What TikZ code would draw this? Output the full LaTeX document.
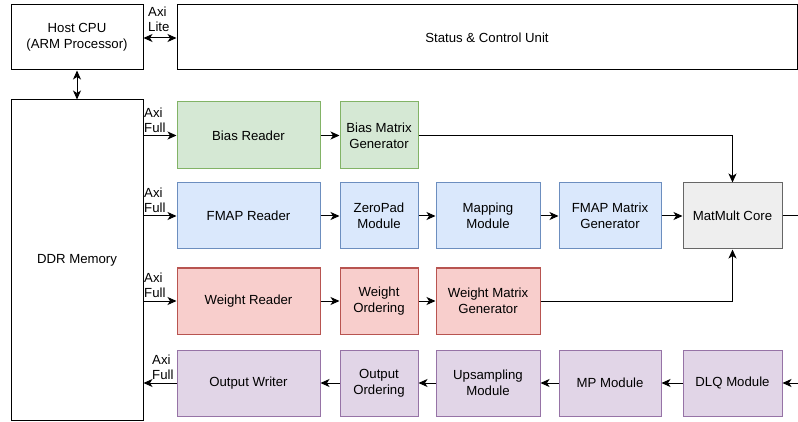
\documentclass[tikz,border=0pt]{standalone}
\usepackage{fontspec}
\setmainfont{Liberation Sans}
\usetikzlibrary{arrows.meta,positioning}
\definecolor{grnF}{HTML}{D5E8D4}\definecolor{grnD}{HTML}{82B366}
\definecolor{bluF}{HTML}{DAE8FC}\definecolor{bluD}{HTML}{6C8EBF}
\definecolor{redF}{HTML}{F8CECC}\definecolor{redD}{HTML}{B85450}
\definecolor{purF}{HTML}{E1D5E7}\definecolor{purD}{HTML}{9673A6}
\definecolor{gryF}{HTML}{EEEEEE}\definecolor{gryD}{HTML}{666666}
\tikzset{
  blk/.style={draw, line width=1pt, align=center, inner sep=0pt, font=\fontsize{13.2}{16}\selectfont},
  plain/.style={blk, draw=black, fill=white},
  green/.style={blk, draw=grnD, fill=grnF},
  blue/.style={blk, draw=bluD, fill=bluF},
  red/.style={blk, draw=redD, fill=redF},
  purple/.style={blk, draw=purD, fill=purF},
  grey/.style={blk, draw=gryD, fill=gryF},
  conn/.style={line width=1pt, -{Stealth[length=9pt,width=8pt,inset=2.5pt]}},
  biconn/.style={line width=1pt, {Stealth[length=9pt,width=8pt,inset=2.5pt]}-{Stealth[length=9pt,width=8pt,inset=2.5pt]}},
  lbl/.style={font=\fontsize{13.2}{15}\selectfont, align=left, inner sep=0pt},
}
\begin{document}
\begin{tikzpicture}[x=1pt,y=-1pt]
\useasboundingbox (0,0) rectangle (798,422);
% top row
\node[plain, minimum width=132pt, minimum height=65pt] (cpu) at (77,37.5) {Host CPU\\(ARM Processor)};
\node[plain, minimum width=620pt, minimum height=65pt] (scu) at (487,37.5) {Status \& Control Unit};
\node[plain, minimum width=132pt, minimum height=320pt] (ddr) at (77,260) {DDR Memory};
% bias row
\node[green, minimum width=143pt, minimum height=67pt] (br) at (248.5,135.5) {Bias Reader};
\node[green, minimum width=78pt, minimum height=67pt] (bmg) at (379,135.5) {Bias Matrix\\Generator};
% fmap row
\node[blue, minimum width=143pt, minimum height=66pt] (fr) at (248.5,216) {FMAP Reader};
\node[blue, minimum width=78pt, minimum height=66pt] (zp) at (379,216) {ZeroPad\\Module};
\node[blue, minimum width=104pt, minimum height=66pt] (map) at (488,216) {Mapping\\Module};
\node[blue, minimum width=102pt, minimum height=66pt] (fmg) at (610,216) {FMAP Matrix\\Generator};
\node[grey, minimum width=99pt, minimum height=66pt] (mm) at (732.5,216) {MatMult Core};
% weight row
\node[red, minimum width=143pt, minimum height=66pt] (wr) at (248.5,301) {Weight Reader};
\node[red, minimum width=78pt, minimum height=66pt] (wo) at (379,301) {Weight\\Ordering};
\node[red, minimum width=104pt, minimum height=66pt] (wmg) at (488,301) {Weight Matrix\\Generator};
% output row
\node[purple, minimum width=143pt, minimum height=66pt] (ow) at (248.5,383) {Output Writer};
\node[purple, minimum width=78pt, minimum height=66pt] (oo) at (379,383) {Output\\Ordering};
\node[purple, minimum width=104pt, minimum height=66pt] (ups) at (488,383) {Upsampling\\Module};
\node[purple, minimum width=102pt, minimum height=66pt] (mp) at (610,383) {MP Module};
\node[purple, minimum width=99pt, minimum height=66pt] (dlq) at (732.5,383) {DLQ Module};
% free ends at the right border
\coordinate (mmout) at (798,216);
\coordinate (dlqin) at (798,383);
% host links
\draw[biconn] (cpu.east |- 0,38) -- (scu.west |- 0,38);
\node[lbl, anchor=north west] (axil) at (148,7) {Axi\\Lite};
\draw[biconn] (cpu.south) -- (ddr.north);
% AXI full links
\draw[conn] (ddr.east |- br.west) -- (br.west);
\node[lbl, anchor=south west] (axb) at (144,133) {Axi\\Full};
\draw[conn] (ddr.east |- fr.west) -- (fr.west);
\node[lbl, anchor=south west] (axf) at (144,213) {Axi\\Full};
\draw[conn] (ddr.east |- wr.west) -- (wr.west);
\node[lbl, anchor=south west] (axw) at (144,298) {Axi\\Full};
\draw[conn] (ow.west) -- (ddr.east |- ow.west);
\node[lbl, anchor=south west] (axo) at (152,380) {Axi\\Full};
% data paths
\draw[conn] (br) -- (bmg);
\draw[conn] (bmg.east) -| (mm.north);
\draw[conn] (fr) -- (zp);
\draw[conn] (zp) -- (map);
\draw[conn] (map) -- (fmg);
\draw[conn] (fmg) -- (mm);
\draw[line width=1pt] (mm.east) -- (mmout);
\draw[conn] (wr) -- (wo);
\draw[conn] (wo) -- (wmg);
\draw[conn] (wmg.east) -| (mm.south);
\draw[conn] (dlqin) -- (dlq.east);
\draw[conn] (dlq) -- (mp);
\draw[conn] (mp) -- (ups);
\draw[conn] (ups) -- (oo);
\draw[conn] (oo) -- (ow);
\end{tikzpicture}
\end{document}
